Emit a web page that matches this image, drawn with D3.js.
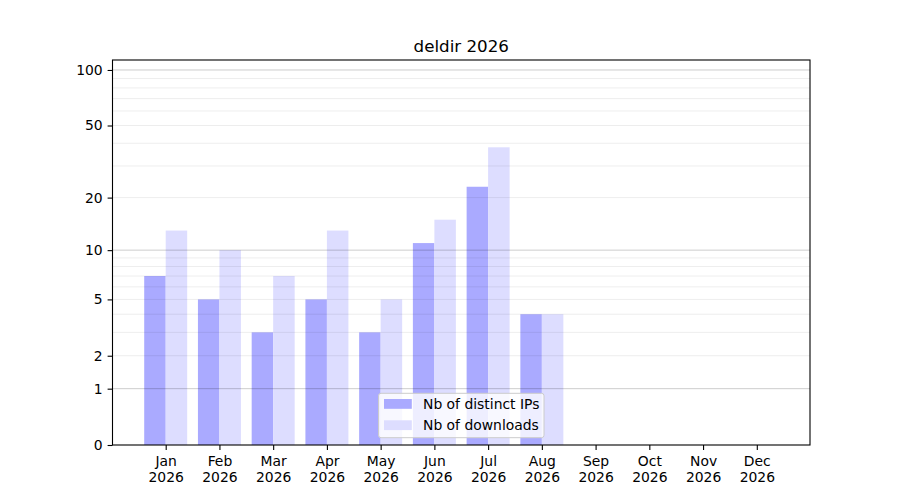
<!DOCTYPE html>
<html lang="en">
<head>
    <meta charset="UTF-8">
    <title>deldir 2026</title>
    <script src="https://cdn.jsdelivr.net/npm/d3@7"></script>
    <style>
        body { margin: 0; background: #fff; }
        text { font-family: "DejaVu Sans", sans-serif; fill: #000; }
    </style>
</head>
<body>
    <svg id="main" width="900" height="500"></svg>
    <script>
        // data
        let months = ['Jan', 'Feb', 'Mar', 'Apr', 'May', 'Jun', 'Jul', 'Aug', 'Sep', 'Oct', 'Nov', 'Dec'];
        let year = '2026';
        let distinctIPs = [7, 5, 3, 5, 3, 11, 23, 4, 0, 0, 0, 0];
        let downloads = [13, 10, 7, 13, 5, 15, 38, 4, 0, 0, 0, 0];
        let yTicks = [0, 1, 2, 5, 10, 20, 50, 100];
        let majorGrid = [1, 10, 100];
        let minorGrid = [2, 3, 4, 5, 6, 7, 8, 9, 20, 30, 40, 50, 60, 70, 80, 90];
        let seriesNames = ['Nb of distinct IPs', 'Nb of downloads'];
        let seriesColors = ['#aaaaff', '#ddddff'];

        let svg = d3.select('svg#main');
        let plot = {left: 112.5, right: 810, top: 60, bottom: 445};
        let barW = 0.4;

        // scales: y is log10(1 + v)
        let xScale = d3.scaleLinear().domain([-0.99, 11.99]).range([plot.left, plot.right]);
        let yScale = d3.scaleSymlog().constant(1).domain([0, 113.2]).range([plot.bottom, plot.top]);

        // bars
        let series = [distinctIPs, downloads];
        series.forEach(function (vals, s) {
            svg.append('g').selectAll('rect')
                .data(vals)
                .enter()
                .append('rect')
                .attr('x', function (d, i) { return xScale(i - barW + s * barW); })
                .attr('width', xScale(barW) - xScale(0))
                .attr('y', function (d) { return yScale(d); })
                .attr('height', function (d) { return yScale(0) - yScale(d); })
                .style('fill', seriesColors[s]);
        });

        // grid on top of the bars
        let grid = svg.append('g');
        grid.selectAll('line.minor')
            .data(minorGrid)
            .enter()
            .append('line')
            .attr('x1', plot.left).attr('x2', plot.right)
            .attr('y1', function (d) { return yScale(d); })
            .attr('y2', function (d) { return yScale(d); })
            .style('stroke', '#000').style('stroke-opacity', 0.07).style('stroke-width', 1);
        grid.selectAll('line.major')
            .data(majorGrid)
            .enter()
            .append('line')
            .attr('x1', plot.left).attr('x2', plot.right)
            .attr('y1', function (d) { return yScale(d); })
            .attr('y2', function (d) { return yScale(d); })
            .style('stroke', '#000').style('stroke-opacity', 0.2).style('stroke-width', 1);

        // frame
        svg.append('rect')
            .attr('x', plot.left).attr('y', plot.top)
            .attr('width', plot.right - plot.left).attr('height', plot.bottom - plot.top)
            .style('fill', 'none').style('stroke', '#000').style('stroke-width', 1.1);

        // y axis
        let yAxis = d3.axisLeft(yScale)
            .tickValues(yTicks)
            .tickFormat(d3.format('d'))
            .tickSize(4.9)
            .tickPadding(4.9);
        let gy = svg.append('g').attr('transform', 'translate(' + plot.left + ',0)').call(yAxis);
        gy.select('.domain').remove();
        gy.selectAll('.tick line').style('stroke-width', 1.1);
        gy.selectAll('.tick text').style('font-size', '13.9px').style('font-family', '"DejaVu Sans", sans-serif');

        // x axis
        let xAxis = d3.axisBottom(xScale)
            .tickValues(d3.range(months.length))
            .tickFormat('')
            .tickSize(4.9);
        let gx = svg.append('g').attr('transform', 'translate(0,' + plot.bottom + ')').call(xAxis);
        gx.select('.domain').remove();
        gx.selectAll('.tick line').style('stroke-width', 1.1);
        gx.selectAll('.tick').append('text')
            .attr('text-anchor', 'middle')
            .style('font-size', '13.9px')
            .each(function (d) {
                let t = d3.select(this);
                t.append('tspan').attr('x', 0).attr('y', 21).text(months[d]);
                t.append('tspan').attr('x', 0).attr('y', 37).text(year);
            });

        // title
        svg.append('text')
            .attr('x', (plot.left + plot.right) / 2)
            .attr('y', 52)
            .attr('text-anchor', 'middle')
            .style('font-size', '16.7px')
            .text('deldir 2026');

        // legend, lower center
        let lg = svg.append('g').attr('transform', 'translate(378.5,393.3)');
        lg.append('rect')
            .attr('width', 165.5).attr('height', 44.4)
            .attr('rx', 2.5)
            .style('fill', '#fff').style('fill-opacity', 0.8)
            .style('stroke', '#cccccc').style('stroke-width', 1);
        seriesNames.forEach(function (name, s) {
            lg.append('rect')
                .attr('x', 5.5).attr('y', 5.7 + s * 21.3)
                .attr('width', 27.8).attr('height', 9.8)
                .style('fill', seriesColors[s]);
            lg.append('text')
                .attr('x', 44.5).attr('y', 15.7 + s * 21.3)
                .style('font-size', '13.9px')
                .text(name);
        });
    </script>
</body>
</html>
